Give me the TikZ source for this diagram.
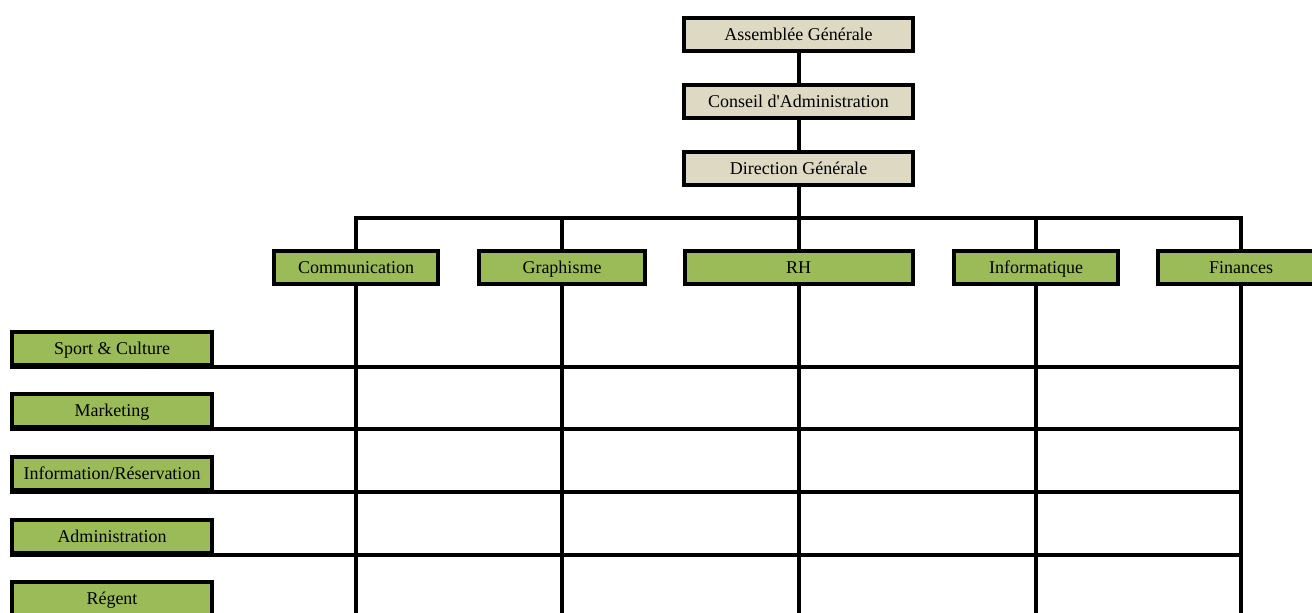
\documentclass[tikz,border=0pt]{standalone}
\usepackage{fontspec}
\setmainfont{Liberation Serif}
\definecolor{beigebox}{RGB}{221,217,195}
\definecolor{greenbox}{RGB}{155,187,89}
\begin{document}
\begin{tikzpicture}[x=1pt,y=-1pt,
  box/.style={draw=black, line width=4pt, rectangle, inner sep=0pt,
    minimum height=33pt, text height=14pt, text depth=2pt,
    text=black, font=\fontsize{18}{20}\selectfont},
  topbox/.style={box, fill=beigebox, minimum width=229pt},
  dept/.style={box, fill=greenbox},
  unit/.style={box, fill=greenbox, minimum width=200pt},
  link/.style={draw=black, line width=4pt}
]
\useasboundingbox (0,0) rectangle (1312,613);

% governing bodies
\node[topbox] (ag) at (798.5,34)  {Assemblée Générale};
\node[topbox] (ca) at (798.5,101.5) {Conseil d\textquotesingle Administration};
\node[topbox] (dg) at (798.5,168) {Direction Générale};

% departments
\node[dept, minimum width=164pt] (com) at (356,267.5)  {Communication};
\node[dept, minimum width=166pt] (gra) at (562,267.5)  {Graphisme};
\node[dept, minimum width=228pt] (rh)  at (798.5,267.5) {RH};
\node[dept, minimum width=164pt] (inf) at (1036,267.5) {Informatique};
\node[dept, minimum width=166pt] (fin) at (1241,267.5) {Finances};

% operational units
\node[unit] (spo) at (112,348.5) {Sport \& Culture};
\node[unit] (mkt) at (112,410.5) {Marketing};
\node[unit] (res) at (112,473.5) {Information/Réservation};
\node[unit] (adm) at (112,536)   {Administration};
\node[unit] (reg) at (112,598.5) {Régent};

% hierarchy
\coordinate (bus) at (798.5,218);
\coordinate (floor) at (0,616);
\path[link] (ag.south) -- (ca.north);
\path[link] (ca.south) -- (dg.north);
\path[link] (dg.south) -- (rh.north);
\path[link] (com.north) |- (bus) -| (fin.north);
\path[link] (gra.north) -- (gra.north |- bus);
\path[link] (inf.north) -- (inf.north |- bus);

% matrix columns
\foreach \d in {com,gra,rh,inf,fin}
  \path[link] (\d.south) -- (\d.south |- floor);

% matrix rows
\foreach \u in {spo,mkt,res,adm}
  \path[link] (\u.south west) -- (\u.south west -| fin.south);
\end{tikzpicture}
\end{document}
